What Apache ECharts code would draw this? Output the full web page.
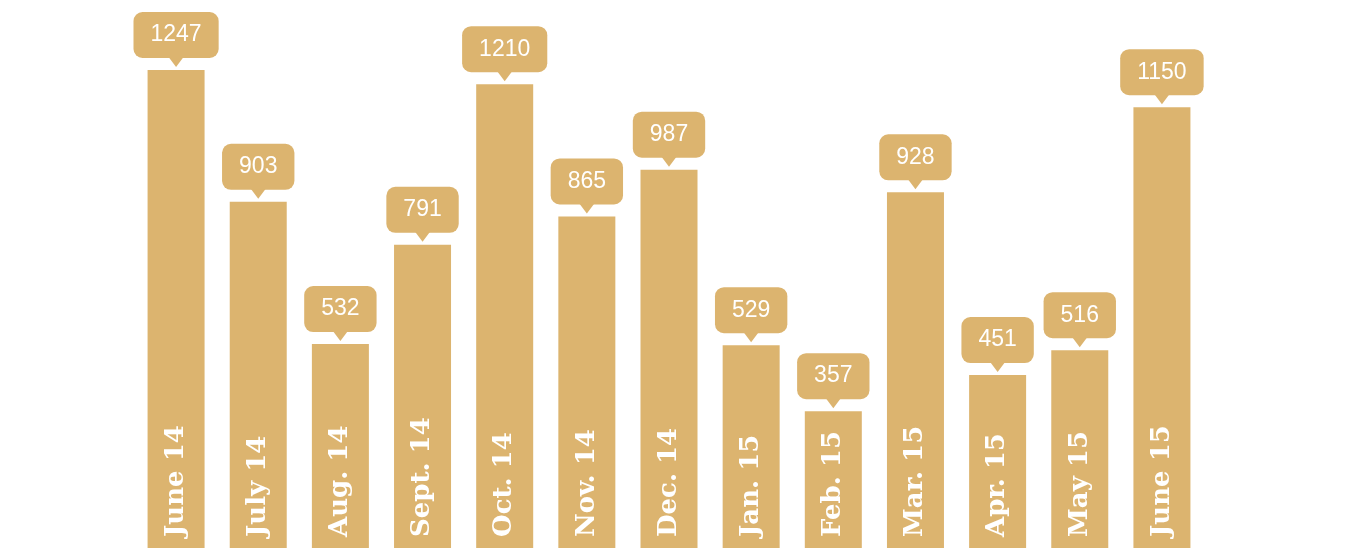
<!DOCTYPE html>
<html>
<head>
<meta charset="utf-8">
<script src="https://cdn.jsdelivr.net/npm/echarts@6/dist/echarts.min.js"></script>
<style>
html,body{margin:0;padding:0;background:#fff;}
#chart{width:1348px;height:548px;}
</style>
</head>
<body>
<div id="chart"></div>
<script>
var categories = ['June 14','July 14','Aug. 14','Sept. 14','Oct. 14','Nov. 14','Dec. 14','Jan. 15','Feb. 15','Mar. 15','Apr. 15','May 15','June 15'];
var values = [1247, 903, 532, 791, 1210, 865, 987, 529, 357, 928, 451, 516, 1150];

var GOLD = '#DCB46F';

var chart = echarts.init(document.getElementById('chart'));
chart.setOption({
  animation: false,
  grid: {left: 135, width: 1068, top: 70, bottom: 0},
  xAxis: {
    type: 'category', data: categories,
    axisLine: {show: false}, axisTick: {show: false}, axisLabel: {show: false}
  },
  yAxis: {type: 'value', min: 0, max: 1247, show: false, splitLine: {show: false}},
  series: [
    {
      type: 'bar', data: values, barWidth: 57,
      itemStyle: {color: GOLD},
      label: {
        show: true, position: 'insideBottom', rotate: 90, align: 'left', verticalAlign: 'middle',
        distance: 11, formatter: '{b}', color: '#fff',
        fontFamily: 'DejaVu Serif', fontWeight: 'bold', fontSize: 26
      }
    },
    {
      type: 'scatter', data: values, symbol: 'triangle', symbolRotate: 180,
      symbolSize: [15, 10], symbolOffset: [0, -8], silent: true,
      itemStyle: {color: GOLD, opacity: 1},
      label: {
        show: true, position: 'top', distance: -1,
        formatter: '{c}',
        backgroundColor: GOLD, borderRadius: 9, padding: [12, 17, 12, 17],
        color: '#fff', fontSize: 23, lineHeight: 22,
        fontFamily: 'Liberation Sans'
      }
    }
  ]
});
</script>
</body>
</html>
